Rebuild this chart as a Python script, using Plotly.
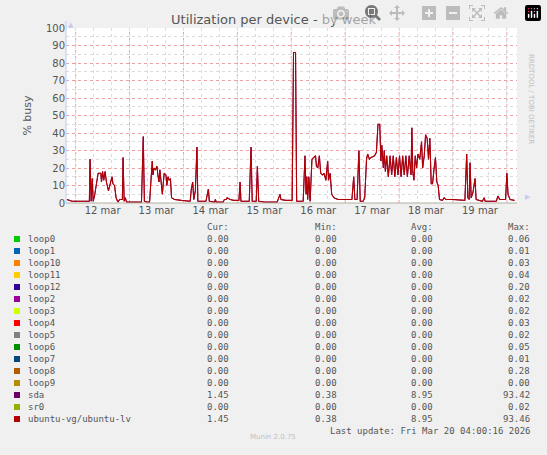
import plotly.graph_objects as go
import pandas as pd

# hours relative to 12 Mar 2026 12:00
hours = [-15.9,-13.6,-5.9,-5.6,-5.1,-4.6,-4.2,-3.6,-2.0,-0.8,-0.5,0,0.5,1.1,1.7,2.6,3.6,4.2,4.6,5.3,6.0,6.8,7.6,8.8,9.1,9.6,10.1,10.7,
         17.3,18.1,18.6,19.7,20.9,21.5,22.1,22.4,22.9,23.5,24.2,24.6,25.1,25.5,26.2,26.6,27.4,28.2,28.6,29.1,29.6,30.2,30.7,32.0,35.1,
         39.0,39.5,40.1,40.6,41.3,42.0,42.4,44.4,46.0,47.1,47.5,49.9,50.2,50.6,53.7,54.2,55.0,55.4,56.8,58.4,60.7,61.2,61.6,65.3,66.1,66.6,
         68.4,68.9,69.5,72.3,77.7,79.0,79.4,81.6,84.4,85.0,85.9,86.4,87.0,89.3,90.1,90.6,90.9,91.3,91.8,92.4,93.2,94.0,94.8,95.2,95.8,96.5,
         97.1,97.9,98.6,99.4,100.2,100.6,101.3,102.0,103.0,104.8,111.0,111.8,112.3,113.3,114.1,114.7,116.0,116.7,117.5,118.0,118.8,119.5,
         121.1,121.9,122.6,123.4,123.9,124.3,125.0,125.4,125.9,
         126.5,127.2,128.0,128.7,129.4,130.1,130.8,131.5,132.2,132.9,133.6,134.3,135.0,135.7,136.5,137.3,
         137.7,138.1,138.6,139.2,139.8,140.4,141.2,142.0,142.5,143.2,143.8,144.5,145.1,145.7,146.3,146.9,147.6,148.2,148.8,149.4,150.0,
         151.3,152.1,152.8,155.9,161.3,162.1,162.6,163.2,163.6,164.1,164.9,165.8,166.3,169.1,169.9,170.3,175.3,176.0,176.8,179.4,180.0,
         180.5,181.4,183.4]
busy = [2,1,1,25,1,14,1,4,17,17,12,18,13,18,12,7,12,15,11,10,3,0.5,2,2,26,1,3,0.5,
        0.5,38,1,0.5,0.5,13,24,16,20,19,21,16,12,19,12,5,17,16,10,15,13,14,3,2,1.5,
        1,8,12,2,7,32,1,1,1,8,1,0.5,2,0.5,0.5,2,2,3,2,1.5,1.5,12,1,1,32,1,
        1,21,1,0.5,0.5,5,2,1.5,1.5,86,86,1,1,1,27,5,15,2,15,1,25,26,27,21,20,27,
        17,16,17,13,24,13,17,5,3,2,2,15,2,2,30,1,1,3,25,28,25,26,
        27,29,45,45,24,33,20,30,18,
        27,15,27,16,27,15,26,16,27,15,27,16,27,15,27,16,
        43,18,13,27,20,28,25,35,20,27,39,37,25,37,11,11,20,26,12,10,2,
        1.5,3,2,2,1.5,28,3,2,23,3,6,14,2,1,3,1,1,4,2,2,17,
        5,2,1.5]

names = ["loop0","loop1","loop10","loop11","loop12","loop2","loop3","loop4","loop5","loop6","loop7","loop8","loop9","sda","sr0","ubuntu-vg/ubuntu-lv"]
colors = ["#00cc00","#0066b3","#ff8000","#ffcc00","#330099","#990099","#ccff00","#ff0000","#808080","#008f00","#00487d","#b35a00","#b38f00","#6b006b","#8fb300","#b30000"]
cur = ["0.00"]*13 + ["1.45","0.00","1.45"]
mn = ["0.00"]*13 + ["0.38","0.00","0.38"]
avg = ["0.00"]*13 + ["8.95","0.00","8.95"]
mx = ["0.06","0.01","0.03","0.04","0.20","0.02","0.02","0.03","0.02","0.05","0.01","0.28","0.00","93.42","0.02","93.46"]

base = pd.Timestamp("2026-03-12 12:00")
times = [base + pd.Timedelta(hours=h) for h in hours]

fig = go.Figure()
fig.add_trace(go.Scatter(x=times, y=busy, mode="lines", line=dict(color=colors[13], width=1), showlegend=False, hoverinfo="skip"))
fig.add_trace(go.Scatter(x=times, y=busy, mode="lines", line=dict(color=colors[15], width=1.1), showlegend=False))

W, H = 547, 455
L, R, T, B = 66, 517, 28, 203
fig.update_layout(
    width=W, height=H, paper_bgcolor="#f0f0f0", plot_bgcolor="white",
    margin=dict(l=L, r=W-R, t=T, b=H-B),
    font=dict(family="DejaVu Sans", color="#555555", size=10),
    title=dict(text="Utilization per device - by week", x=0.5, xanchor="center", y=1-19/H, yanchor="middle",
               font=dict(size=13, color="#555555")),
    xaxis=dict(range=[base + pd.Timedelta(hours=-16.3), base + pd.Timedelta(hours=184.5)],
               tickvals=[pd.Timestamp(f"2026-03-{d} 12:00") for d in range(12, 20)],
               ticktext=[f"{d} mar" for d in range(12, 20)],
               showgrid=False, ticks="", zeroline=False, showline=False,
               minor=dict(dtick=8*3600*1000, tick0="2026-03-12 00:00", showgrid=True, gridcolor="#dcdcdc", griddash="dot"),
               tickfont=dict(size=10, color="#555555")),
    yaxis=dict(range=[0, 100], dtick=10, showgrid=True, gridcolor="#f0a0a0", griddash="dot", zeroline=False,
               minor=dict(dtick=5, showgrid=True, gridcolor="#dcdcdc", griddash="dot"),
               showline=False, ticks="", tickfont=dict(size=10, color="#555555"),
               title=dict(text="% busy", font=dict(size=11, color="#555555"), standoff=12)),
)
for d in range(12, 21):
    fig.add_vline(x=pd.Timestamp(f"2026-03-{d:02d} 00:00"), line=dict(color="#f0a0a0", width=1, dash="dot"), layer="below")
fig.add_shape(type="line", xref="paper", yref="paper", x0=0, x1=1, y0=0, y1=0, line=dict(color="#b0b0a0", width=1))
fig.add_shape(type="line", xref="paper", yref="paper", x0=0, x1=0, y0=0, y1=1.04, line=dict(color="#c8c8f0", width=1))
fig.add_annotation(xref="paper", yref="paper", x=1.035, y=0, text="▶", showarrow=False, font=dict(size=7, color="#c8c8f0"))
fig.add_annotation(xref="paper", yref="paper", x=0, y=1.05, text="▲", showarrow=False, font=dict(size=7, color="#c8c8f0"))

mono = "DejaVu Sans Mono"
ann = dict(xref="paper", yref="paper", showarrow=False, yanchor="middle", font=dict(family=mono, size=9, color="#555555"))
def ax(x): return (x - L) / (R - L)
def ay(y): return (B - y) / (B - T)
for hx, txt in [(231, "Cur:"), (339, "Min:"), (435, "Avg:"), (532, "Max:")]:
    fig.add_annotation(**ann, x=ax(hx), y=ay(227), text=txt, xanchor="right")
for i, n in enumerate(names):
    yy = 239 + i * 12
    fig.add_shape(type="rect", xref="paper", yref="paper", x0=ax(14), x1=ax(20), y0=ay(yy+3), y1=ay(yy-3),
                  fillcolor=colors[i], line=dict(width=0))
    fig.add_annotation(**ann, x=ax(26), y=ay(yy), text=n, xanchor="left")
    for hx, v in [(231, cur[i]), (339, mn[i]), (435, avg[i]), (532, mx[i])]:
        fig.add_annotation(**ann, x=ax(hx), y=ay(yy), text=v, xanchor="right")
fig.add_annotation(**ann, x=ax(532), y=ay(431), text="Last update: Fri Mar 20 04:00:16 2026", xanchor="right")
fig.add_annotation(xref="paper", yref="paper", showarrow=False, x=ax(273), y=ay(443), text="Munin 2.0.75",
                   font=dict(family="DejaVu Sans", size=7, color="#c0c0c0"))
fig.add_annotation(xref="paper", yref="paper", showarrow=False, x=ax(537), y=ay(52), text="RRDTOOL / TOBI OETIKER",
                   textangle=90, font=dict(family="DejaVu Sans", size=7, color="#c0c0c0"))
fig.write_html("out.html", post_script="document.body.style.margin='0';document.body.style.overflow='hidden';")
